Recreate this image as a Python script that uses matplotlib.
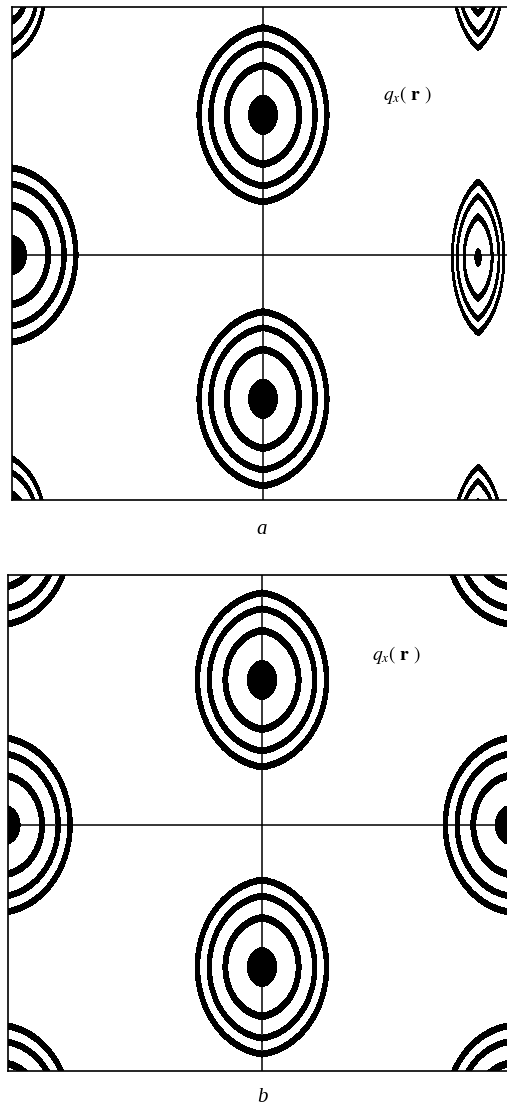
import numpy as np
import matplotlib
matplotlib.use("Agg")
import matplotlib.pyplot as plt

plt.rcParams['mathtext.fontset'] = 'stix'

# contour levels of q_x(r): three ring bands and a filled core
ring_levels = [0.50, 0.63, 0.80]
core_level = 0.965
band_half = 0.024

# peak shapes: amplitude, x-scale, y-scale, tip sharpness
round_peak = (1.0, 0.342, 0.4216, 0.12)
lens_peak = (0.975, 0.176, 0.374, 0.4)
edge_peak = (0.9, 0.237, 0.339, 0.4)

# panel a: peak centres
a_round_x = [0.0, 0.0, -1.0]
a_round_y = [0.565, -0.58, 0.0]
a_lens_x = [0.857, 0.857, 0.857]
a_lens_y = [-0.01, 1.14, -1.16]
a_edge_x = [-1.0, -1.0]
a_edge_y = [1.06, -1.08]

# panel b: peak centres
b_round_x = [0.0, 0.0, -1.01, 0.976, -1.01, -1.01, 0.976, 0.976]
b_round_y = [0.585, -0.573, 0.0, 0.0, 1.16, -1.16, 1.16, -1.16]

panel_labels = ['a', 'b']
field_label = r'$q_x(\ \mathbf{r}\ )$'


def peak(X, Y, x0, y0, shape):
    amp, sx, sy, tip = shape
    u = np.abs(X - x0) / sx
    v = (Y - y0) / sy
    d = np.sqrt(u ** 2 + v ** 2) + tip * u
    return amp * np.exp(-d ** 2)


def field(X, Y, groups):
    F = np.zeros_like(X)
    for xs, ys, shape in groups:
        for x0, y0 in zip(xs, ys):
            F = np.maximum(F, peak(X, Y, x0, y0, shape))
    return F


def draw(ax, groups, xlim, ylim, text_xy):
    gx = np.linspace(xlim[0] - 0.05, xlim[1] + 0.05, 1000)
    gy = np.linspace(ylim[0] - 0.05, ylim[1] + 0.05, 1000)
    X, Y = np.meshgrid(gx, gy)
    F = field(X, Y, groups)
    for L in ring_levels:
        ax.contourf(X, Y, F, levels=[L - band_half, L + band_half], colors='k')
    ax.contourf(X, Y, F, levels=[core_level, 10.0], colors='k')
    ax.axhline(0, color='k', lw=1.1)
    ax.axvline(0, color='k', lw=1.1)
    ax.set_xlim(*xlim)
    ax.set_ylim(*ylim)
    ax.set_xticks([])
    ax.set_yticks([])
    for s in ax.spines.values():
        s.set_linewidth(1.2)
    ax.text(text_xy[0], text_xy[1], field_label, fontsize=14,
            ha='left', va='baseline')


fig = plt.figure(figsize=(5.07, 11.08), dpi=100)

ax_a = fig.add_axes([12 / 507, 1 - 500 / 1108, 502 / 507, 493 / 1108])
draw(ax_a,
     [(a_round_x, a_round_y, round_peak),
      (a_lens_x, a_lens_y, lens_peak),
      (a_edge_x, a_edge_y, edge_peak)],
     (-1.0, 1.0), (-0.988, 1.0), (0.478, 0.625))

ax_b = fig.add_axes([8 / 507, 1 - 1071 / 1108, 508 / 507, 496 / 1108])
draw(ax_b,
     [(b_round_x, b_round_y, round_peak)],
     (-1.0, 1.0), (-0.992, 1.008), (0.433, 0.665))

fig.text(262 / 507, 1 - 530 / 1108, panel_labels[0], fontsize=15,
         family='Liberation Serif', style='italic', ha='center', va='center')
fig.text(262 / 507, 1 - 1098 / 1108, panel_labels[1], fontsize=15,
         family='Liberation Serif', style='italic', ha='center', va='center')

fig.savefig('out.png', dpi=100)
